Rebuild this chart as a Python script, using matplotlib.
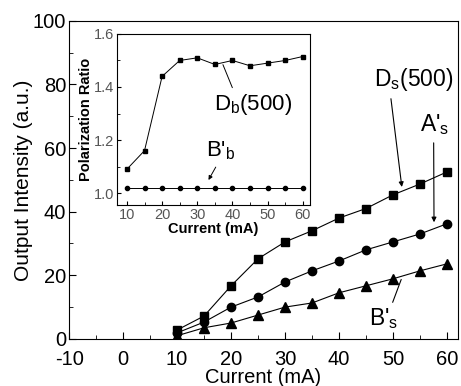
import matplotlib
matplotlib.use("Agg")
import matplotlib.pyplot as plt

plt.rcParams['font.family'] = ['Liberation Sans', 'DejaVu Sans']
plt.rcParams['mathtext.default'] = 'regular'
plt.rcParams['axes.unicode_minus'] = False

current = [10, 15, 20, 25, 30, 35, 40, 45, 50, 55, 60]
ds_500 = [2.8, 7.2, 16.7, 25.2, 30.5, 34.0, 38.0, 41.0, 45.3, 48.7, 52.5]
a_s = [1.9, 5.3, 10.0, 13.2, 17.9, 21.4, 24.5, 28.0, 30.5, 33.0, 36.2]
b_s = [1.0, 3.5, 5.0, 7.5, 10.0, 11.3, 14.5, 16.7, 18.9, 21.4, 23.6]

db_500 = [1.09, 1.16, 1.44, 1.50, 1.51, 1.485, 1.50, 1.48, 1.49, 1.50, 1.515]
b_b = [1.02] * 11

fig = plt.figure(figsize=(4.61, 3.86), dpi=100)
ax = fig.add_axes([0.150, 0.122, 0.843, 0.824])

ax.plot(current, ds_500, '-', color='k', lw=0.8, marker='s', ms=6)
ax.plot(current, a_s, '-', color='k', lw=0.8, marker='o', ms=6)
ax.plot(current, b_s, '-', color='k', lw=0.8, marker='^', ms=7)

ax.set_xlim(-10, 62)
ax.set_ylim(0, 100)
ax.set_xticks([-10, 0, 10, 20, 30, 40, 50, 60])
ax.set_xticks(range(-5, 61, 10), minor=True)
ax.set_yticks([0, 20, 40, 60, 80, 100])
ax.set_yticks([10, 30, 50, 70, 90], minor=True)
ax.tick_params(which='both', direction='in', top=False, right=False,
               labelsize=14.5)
ax.tick_params(axis='x', pad=8)
ax.tick_params(axis='y', pad=2)
ax.tick_params(which='major', length=5)
ax.tick_params(which='minor', length=3)
ax.set_xlabel('Current (mA)', fontsize=14.5, labelpad=-0.5)
ax.set_ylabel('Output Intensity (a.u.)', fontsize=15, labelpad=0)

ax.annotate('D$_s$(500)', xy=(51.7, 46.9), xytext=(53.9, 81.5),
            fontsize=16.5, ha='center', va='center',
            arrowprops=dict(arrowstyle='-|>', color='k', lw=0.8,
                            mutation_scale=7, relpos=(0.2, 0), shrinkA=2))
ax.annotate("A'$_s$", xy=(57.6, 35.8), xytext=(57.8, 67.3),
            fontsize=16.5, ha='center', va='center',
            arrowprops=dict(arrowstyle='-|>', color='k', lw=0.8,
                            mutation_scale=7, relpos=(0.45, 0), shrinkA=2))
ax.annotate("B'$_s$", xy=(51.7, 19.5), xytext=(48.3, 6.3),
            fontsize=16.5, ha='center', va='center',
            arrowprops=dict(arrowstyle='-', color='k', lw=0.8,
                            relpos=(0.75, 1), shrinkA=1))

ins = fig.add_axes([0.254, 0.469, 0.418, 0.443])
ins.plot(current, db_500, '-', color='k', lw=0.7, marker='s', ms=3)
ins.plot(current, b_b, '-', color='k', lw=0.7, marker='o', ms=3)
ins.set_xlim(7.2, 62)
ins.set_ylim(0.955, 1.6)
ins.set_xticks([10, 20, 30, 40, 50, 60])
ins.set_xticks(range(15, 61, 10), minor=True)
ins.set_yticks([1.0, 1.2, 1.4, 1.6])
ins.set_yticks([1.1, 1.3, 1.5], minor=True)
ins.tick_params(which='both', direction='in', top=False, right=False,
                labelsize=10.5, labelcolor='#555555', pad=2)
ins.tick_params(which='major', length=3)
ins.tick_params(which='minor', length=2)
ins.set_xlabel('Current (mA)', fontsize=10.5, fontweight='bold', labelpad=0)
ins.set_ylabel('Polarization Ratio', fontsize=10.5, fontweight='bold', labelpad=1)

ins.annotate('D$_b$(500)', xy=(37, 1.494), xytext=(46.0, 1.335),
             fontsize=16, ha='center', va='center',
             arrowprops=dict(arrowstyle='-', color='k', lw=0.7,
                             relpos=(0.25, 1), shrinkA=1))
ins.annotate("B'$_b$", xy=(32.8, 1.04), xytext=(36.5, 1.16),
             fontsize=16, ha='center', va='center',
             arrowprops=dict(arrowstyle='-|>', color='k', lw=0.7,
                             mutation_scale=6, relpos=(0.45, 0), shrinkA=2))

fig.savefig('out.png', dpi=100)
